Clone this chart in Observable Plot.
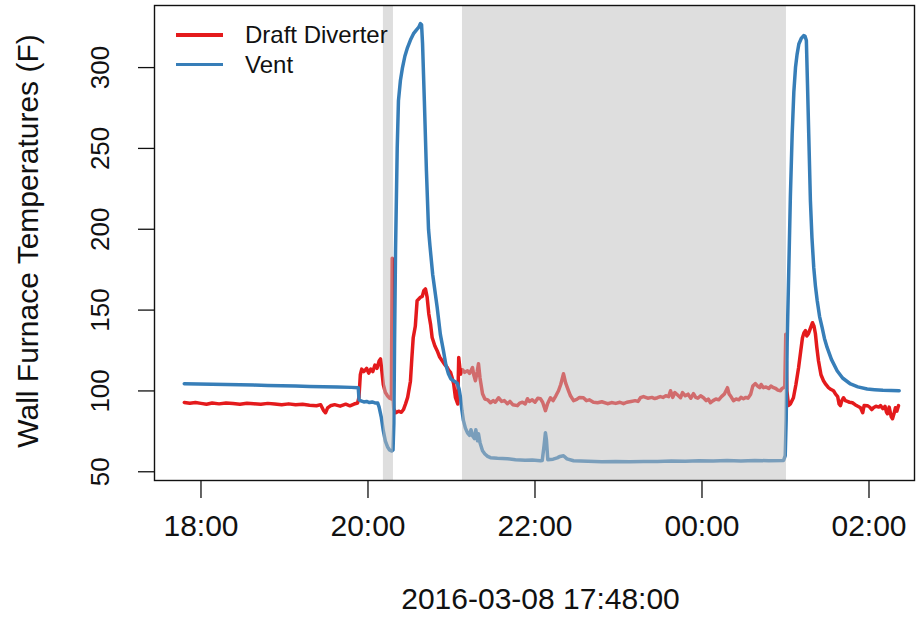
<!DOCTYPE html>
<html>
<head>
<meta charset="utf-8">
<script src="https://cdn.jsdelivr.net/npm/d3@7"></script>
<script src="https://cdn.jsdelivr.net/npm/@observablehq/plot@0.6"></script>
<style>
  html, body { margin: 0; padding: 0; background: #fff; }
  #wrap { position: relative; width: 919px; height: 628px; font-family: "Liberation Sans", Arial, Helvetica, sans-serif; }
  .leg { position: absolute; font-size: 24px; color: #111; line-height: 1; }
  .legline { position: absolute; height: 3.5px; }
</style>
</head>
<body>
<div id="wrap"></div>
<script>
// ---- data (minutes after 2016-03-08 17:48:00, temperature in F) ----
const seriesNames = ["Draft Diverter", "Vent"];
const seriesColors = ["#E41A1C", "#377EB8"];

const diverterMinutes = [0,4,8,12,16,20,25,30,35,40,45,50,55,60,65,70,75,80,85,90,95,98,100,101.5,103,105,108,112,116,119,122,124.5,125.5,126.5,127.5,129,131,132.5,134,135.5,137,138.5,140,141,142,143,144.5,146,147.5,148.8,149.4,149.9,150.5,152,154,156,157.5,159,160.5,162.5,163.5,164.5,166,167.3,169.7,171,172.1,173.3,174.5,175.7,177,178.1,180,181.7,183.5,185.3,187,188.9,190,191.3,192.5,193.6,194.8,196.5,197.2,198.5,200,201.5,203.5,205,207.1,208,209.2,210.5,211.4,212.5,214.3,216,218,220,222,223.5,225.8,228,230,232.2,234,236,239.4,241,243,245,246.6,248,250,252,254,255.9,257.5,259.5,261,263.1,265,267,268.9,270.5,272.5,274,276.1,277.5,279.7,282,284,286.8,289,291,294,297,300,304.1,307,310,313,315.6,318,321,324,326,327.8,330,333,336,338,340,342,344,346,348,349.4,351,352.5,354.5,356.6,358,360,362,364,365.9,367.5,369,371,373.1,375,376.5,378.1,380,382,384,386,388,390.3,391.5,392.5,394.6,396.5,398.5,400,401.8,403.5,405,407,408.5,410.4,412,413.5,414.5,416.2,418,420,421.5,423.4,425,426.5,428.4,429.5,430.6,431.5,432.2,433,434.2,435.5,437.7,439.5,441.4,443,444.2,445.3,446.4,447.3,448.5,450,451.4,452.5,453.5,454.5,455.7,457.5,459.3,461,462.9,464.5,466.5,468,469.5,470.5,471.5,472.5,473.7,475,476.5,478,480.1,482,484,485.9,487.5,488.5,490.9,492.5,494,495.2,497,499,500.3,502,503.5,504.5,505.3,506.5,508,508.9,510,511,512,513.2];
const diverterTemps = [92.9,92.4,92.8,92.3,91.8,92.5,92.0,92.6,92.2,91.8,92.4,92.1,91.7,92.3,91.9,91.5,92.0,91.4,91.8,91.2,90.8,91.5,88.0,86.5,89.5,90.8,91.5,90.6,91.8,90.8,91.9,92.5,96,110,113.5,112,114,111,113.5,112,116,114,118.5,119.8,112,104,99,97,95.5,95,182,100,89,86.5,87.5,86.8,88.5,92,96,106,120,132.9,140,155.8,157.9,158.5,162,163.1,158,147.6,141,133.1,128,124.9,121,118.7,116.5,114.6,112.8,111.5,108,104.3,96,91.9,120.7,110.4,113,111.5,112.5,110.8,114.4,110,106.3,112,116.8,108,98.3,95,94.5,92.7,94,93,95.8,93.5,94,92.1,93.5,91.5,90.9,92.5,93,92,95.2,93.5,94.5,93,95.5,95.2,93,87.8,92,95.8,94,97,100.1,104,110.6,105,100.1,97,94,94.8,96,95.8,94,94.5,93,92.7,93.3,92.1,92.8,92.3,93,92.1,93,93.5,94,93.5,95.8,96.5,95.5,96,95.3,95.8,96.5,96,97,96.5,100.1,96,99,97.5,95.8,99,97,98,95.5,98.3,96,95.5,97,95.8,94,95,92.7,94,95,94.5,96.5,98,102,98,97,94,95,94.5,96,95.2,96,95.5,98,103,104.5,103,102,104,102,102.5,101.5,103,102,101.5,100.5,100.1,101.5,102,103,135,100,91,92,95.8,104,114.4,125,132.9,136,137.3,134,135.4,139,142.2,140,135.4,127,118.7,110,106.3,104,102,101,100.1,98,96.5,92,90.9,94,95.8,94,93.5,93,92.7,91.5,90.5,89.6,86.5,91,90.9,90,88.5,89.6,90.5,90,90.9,89,90.5,87,85.9,90,84,82.8,86,89.6,87.5,90.9];

const ventMinutes = [0,10,20,30,40,50,60,70,80,90,100,110,120,125,125.6,127,129,131,133,135,137,139,140,141.5,143,144.5,146,147.5,149,150,150.6,151.1,151.8,153,153.9,155.3,156.8,158.5,160.4,162.5,164.7,167,168.5,169.7,170.5,171.2,172.5,174,175.5,176.5,178.5,181.7,184,186.2,188,189.8,191.5,193.4,195,196.3,197.5,198.5,199.5,200.6,202,203.5,205,206,207.1,208.5,209.5,210.7,211.4,212.5,214.3,216,218,220,225,232.2,238,245,250,255.9,257.2,258.5,259.5,260.2,261.2,265,268,270,272.5,275,279.7,290,300,310,320,330,340,350,360,370,380,390,400,410,420,430.6,431.8,432.5,433.2,434.4,435.5,436.8,438,439.2,440.3,441.6,443.3,445.1,446,447,447.8,448.7,449.9,451,452.3,453.5,454.8,456.5,458.3,460,461.9,465,469.1,473,478.7,484,490.7,496,502,508,513.7];
const ventTemps = [104.5,104.3,104.2,104.0,103.8,103.6,103.4,103.2,103.0,102.8,102.6,102.4,102.2,102.0,94.5,93.8,93.2,93.5,92.8,93.2,92.6,92.5,90,84,75.4,69,65.5,63.5,62.8,63.5,80,130,187,250,279.6,292,300,307,312.4,317,321,323.5,325,327.2,326.5,315,279.6,236,200,190,172,151.7,135,124.9,116,110.6,107.5,106.3,105.5,104.5,101,95.8,88,81.6,77,74.1,72.5,76,72.3,70.5,76,69.2,73.5,68,63,61,59.5,58.7,58.3,58.1,57.5,57.2,57.3,56.8,57,66,74.1,70,57.5,57.8,58.6,59.5,59.9,58,56.8,56.5,56.2,56.3,56.2,56.3,56.4,56.6,56.5,56.8,56.6,56.9,56.7,57,56.8,57,60,82,130,176.4,220,258.9,285,300.2,308,314.6,318,319.8,319.5,316.7,290,259,217.7,195,176.4,165,155.8,146,139.3,132.5,126.9,119.5,112.5,108,104.3,102.5,101.2,100.8,100.4,100.2,100.1];

// shaded periods (minutes after start)
const shadeStartMinutes = [143.1, 199.9];
const shadeEndMinutes = [150.3, 432.7];

// axis ticks
const xTickMinutes = [12, 132, 252, 372, 492];
const xTickLabels = ["18:00", "20:00", "22:00", "00:00", "02:00"];
const yTicks = [50, 100, 150, 200, 250, 300];
const xTitle = "2016-03-08 17:48:00";
const yTitle = "Wall Furnace Temperatures (F)";

// ---- build ----
const start = new Date(2016, 2, 8, 17, 48, 0);
const toDate = m => new Date(start.getTime() + m * 60000);

const diverter = diverterMinutes.map((m, i) => ({t: toDate(m), v: diverterTemps[i]}));
const vent = ventMinutes.map((m, i) => ({t: toDate(m), v: ventTemps[i]}));
const shades = shadeStartMinutes.map((m, i) => ({a: toDate(m), b: toDate(shadeEndMinutes[i])}));
const xTicks = xTickMinutes.map(toDate);

const chart = Plot.plot({
  width: 919,
  height: 628,
  marginLeft: 154,
  marginRight: 5,
  marginTop: 5,
  marginBottom: 148,
  style: {fontFamily: '"Liberation Sans", Arial, Helvetica, sans-serif', color: "#111", background: "#fff", overflow: "visible"},
  x: {type: "time", domain: [toDate(-21.4), toDate(524.7)], label: null},
  y: {domain: [44.6, 338.4], label: null},
  marks: [
    Plot.line(diverter, {x: "t", y: "v", stroke: seriesColors[0], strokeWidth: 3.5, strokeLinejoin: "round", curve: "linear"}),
    Plot.line(vent, {x: "t", y: "v", stroke: seriesColors[1], strokeWidth: 3.5, strokeLinejoin: "round", curve: "linear"}),
    Plot.rect(shades, {x1: "a", x2: "b", fill: "#bebebe", fillOpacity: 0.5}),
    Plot.frame({stroke: "#111", strokeWidth: 1.4}),
    Plot.axisX({ticks: xTicks, tickSize: 18, tickFormat: () => "", label: null, stroke: "#111", strokeWidth: 1.3}),
    Plot.text(xTicks, {x: d => d, text: (d, i) => xTickLabels[i], frameAnchor: "bottom", textAnchor: "middle", dy: 55, fontSize: 30, fill: "#111"}),
    Plot.axisY({ticks: yTicks, tickSize: 16, tickFormat: () => "", label: null, stroke: "#111", strokeWidth: 1.3}),
    Plot.text(yTicks, {y: d => d, text: d => String(d), frameAnchor: "left", textAnchor: "middle", dx: -54, rotate: -90, fontSize: 26, fill: "#111"}),
    Plot.text([xTitle], {frameAnchor: "bottom", textAnchor: "middle", dy: 128, dx: 6, fontSize: 30, fill: "#111"}),
    Plot.text([yTitle], {frameAnchor: "left", textAnchor: "middle", dx: -126, dy: -2, rotate: -90, fontSize: 30, fill: "#111"})
  ]
});

const wrap = document.getElementById("wrap");
wrap.appendChild(chart);

// legend (inside top-left of panel)
const legTops = [35, 64.5];
seriesNames.forEach((name, i) => {
  const ln = document.createElement("div");
  ln.className = "legline";
  ln.style.left = "176px";
  ln.style.width = "47px";
  ln.style.top = (legTops[i] - 1.75) + "px";
  ln.style.background = seriesColors[i];
  wrap.appendChild(ln);
  const tx = document.createElement("div");
  tx.className = "leg";
  tx.textContent = name;
  tx.style.left = "245px";
  tx.style.top = (legTops[i] - 12) + "px";
  wrap.appendChild(tx);
});
</script>
</body>
</html>
